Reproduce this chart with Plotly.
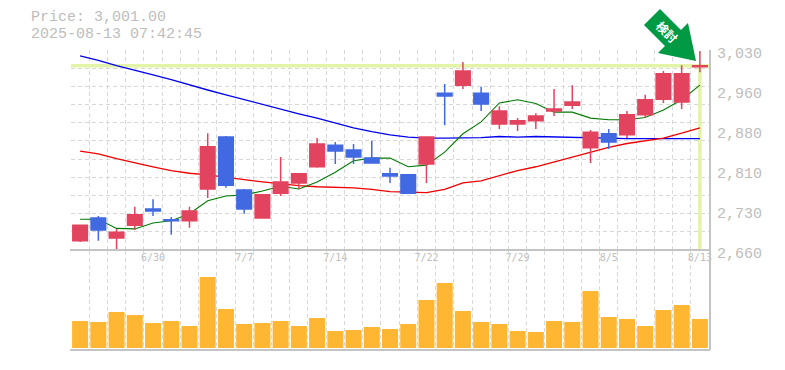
import plotly.graph_objects as go

W, H = 785, 370

# Trading days on the category axis
dates = ["6/24","6/25","6/26","6/27","6/30","7/1","7/2","7/3","7/4","7/7","7/8","7/9","7/10","7/11",
         "7/14","7/15","7/16","7/17","7/18","7/22","7/23","7/24","7/25","7/28","7/29","7/30","7/31",
         "8/1","8/4","8/5","8/6","8/7","8/8","8/12","8/13"]
labelled_dates = ["6/30","7/7","7/14","7/22","7/29","8/5","8/13"]

# OHLC
open_  = [2677,2719,2682,2706,2736,2716,2714,2773,2869,2771,2719,2765,2784,2814,2854,2845,2830,2801,2799,2819,2950,2965,2950,2893,2893,2899,2917,2928,2849,2875,2873,2910,2939,2934,2999]
high   = [2706,2723,2699,2740,2754,2721,2740,2876,2871,2773,2762,2832,2801,2867,2860,2856,2862,2812,2799,2869,2967,3008,2962,2926,2904,2913,2958,2965,2882,2884,2917,2947,2991,3002,3028]
low    = [2675,2677,2662,2697,2723,2688,2701,2756,2775,2727,2719,2760,2773,2812,2819,2819,2821,2784,2764,2784,2891,2958,2917,2884,2880,2884,2908,2921,2821,2847,2867,2904,2932,2921,2989]
close  = [2706,2697,2693,2725,2732,2714,2732,2851,2780,2736,2762,2786,2801,2856,2843,2832,2821,2797,2765,2869,2945,2991,2930,2917,2899,2908,2921,2934,2878,2860,2910,2938,2986,2986,3001]

# Moving averages
ma_blue = [3019,3011,3001,2993,2984,2975,2965,2956,2947,2938,2929,2920,2912,2904,2895,2886,2879,2873,2869,2867,2867,2867,2868,2870,2869,2870,2869,2869,2868,2866,2866,2866,2866,2866,2866]
ma_red  = [2843,2838,2829,2821,2814,2807,2802,2799,2794,2790,2786,2782,2779,2777,2776,2775,2772,2768,2767,2766,2772,2784,2788,2797,2807,2814,2823,2832,2841,2850,2857,2862,2867,2876,2886]
ma_green= [2717,2717,2700,2699,2710,2714,2727,2751,2760,2762,2769,2778,2773,2786,2804,2825,2830,2830,2814,2817,2841,2875,2897,2932,2938,2931,2915,2915,2904,2901,2901,2905,2919,2938,2965]

# Volume, in shares
volume = [27000,26000,36000,33000,25000,27000,22000,71000,39000,24000,25000,27000,22000,30000,17000,18000,21000,19000,24000,48000,65000,37000,26000,24000,17000,16000,27000,26000,57000,31000,29000,22000,38000,43000,29000]

current_price = 3001
price_label = "Price: 3,001.00"
stamp_label = "2025-08-13 07:42:45"
y_ticks = [2660,2734,2808,2882,2956,3030]
y_text = ["2,660","2,730","2,810","2,880","2,960","3,030"]

idx = list(range(len(dates)))
x_lo, x_hi = -0.5, len(dates) - 0.5
grid = "#d8d8d8"
axisc = "#c4c4c4"
txt = "#bdbdbd"
mono = "Liberation Mono"
grid_x = dict(tick0=-0.5, dtick=1, showgrid=True, gridcolor=grid, griddash="4px,3px", gridwidth=1, ticks="")

fig = go.Figure()
fig.add_trace(go.Scatter(x=[x_lo, x_hi], y=[current_price]*2, mode="lines", line=dict(color="#e3f3a8", width=3.5), zorder=-2, hoverinfo="skip"))
fig.add_trace(go.Scatter(x=[idx[-1], idx[-1]], y=[2660, current_price], mode="lines", line=dict(color="#e3f3a8", width=3.5), zorder=-2, hoverinfo="skip"))
fig.add_trace(go.Scatter(x=idx, y=ma_blue, mode="lines", line=dict(color="#0000f0", width=1.3), zorder=-1))
fig.add_trace(go.Scatter(x=idx, y=ma_red, mode="lines", line=dict(color="#f00000", width=1.3), zorder=-1))
fig.add_trace(go.Scatter(x=idx, y=ma_green, mode="lines", line=dict(color="#007a00", width=1.1), zorder=-1))
fig.add_trace(go.Candlestick(x=idx, open=open_, high=high, low=low, close=close,
    increasing=dict(line=dict(color="#e2445f", width=1.5), fillcolor="#e2445f"),
    decreasing=dict(line=dict(color="#4169e1", width=1.5), fillcolor="#4169e1"),
    whiskerwidth=0))
fig.add_trace(go.Bar(x=idx, y=volume, xaxis="x2", yaxis="y2", marker=dict(color="#ffb733", line_width=0), width=0.88))

fig.update_layout(
    width=W, height=H, autosize=False, margin=dict(l=0, r=0, t=0, b=0, autoexpand=False),
    paper_bgcolor="white", plot_bgcolor="white", showlegend=False, boxgap=0.2, boxgroupgap=0,
    xaxis=dict(domain=[71/W, 709/W], range=[x_lo, x_hi], anchor="y", rangeslider=dict(visible=False),
        tickmode="array", tickvals=[dates.index(d) for d in labelled_dates], ticktext=labelled_dates,
        tickfont=dict(family="DejaVu Sans Mono", size=10, color=txt), ticks="", showgrid=False, showline=False,
        zeroline=False, ticklabelstandoff=0, minor=grid_x),
    yaxis=dict(domain=[1-250/H, 1-50/H], range=[2660, 3030], side="right", anchor="x",
        tickmode="array", tickvals=y_ticks, ticktext=y_text,
        tickfont=dict(family=mono, size=15, color=txt), ticks="", showgrid=False, showline=False,
        zeroline=False, ticklabelstandoff=7, ticklabelshift=3,
        minor=dict(tick0=2660, dtick=370/11, showgrid=True, gridcolor=grid, griddash="4px,3px", gridwidth=1, ticks="")),
    xaxis2=dict(domain=[71/W, 709/W], range=[x_lo, x_hi], anchor="y2", showticklabels=False, ticks="",
        showgrid=False, showline=False, zeroline=False, minor=grid_x),
    yaxis2=dict(domain=[1-350/H, 1-251/H], range=[-2000, 97000], side="right", anchor="x2", showticklabels=False,
        ticks="", showgrid=False, showline=False, zeroline=False),
)

def px_line(x0, y0, x1, y1):
    fig.add_shape(type="line", xref="paper", yref="paper", x0=x0/W, x1=x1/W, y0=1-y0/H, y1=1-y1/H,
                  line=dict(color=axisc, width=2), layer="above")

# Panel frames
px_line(70, 250, 710, 250)
px_line(710, 50, 710, 350)
px_line(70, 350, 710, 350)

fig.add_annotation(xref="paper", yref="paper", x=29/W, y=1-17/H, text=price_label, showarrow=False, height=14,
    xanchor="left", yanchor="middle", font=dict(family=mono, size=15, color=txt))
fig.add_annotation(xref="paper", yref="paper", x=29/W, y=1-34/H, text=stamp_label, showarrow=False, height=14,
    xanchor="left", yanchor="middle", font=dict(family=mono, size=15, color=txt))

# Badge arrow in pixels converted to paper coordinates
arrow_px = [(660,9),(681,30),(688,23),(696,61),(658,53),(665,46),(644,25)]
path = "M " + " L ".join(f"{a/W:.5f},{1-b/H:.5f}" for a, b in arrow_px) + " Z"
fig.add_shape(type="path", xref="paper", yref="paper", path=path, fillcolor="#009944", line_width=0, layer="above")
# Carrier shape for the rotated badge text
fig.add_shape(type="rect", xref="paper", yref="paper", x0=646/W, x1=686/W, y0=1-53/H, y1=1-13/H,
    line_width=0, fillcolor="rgba(0,0,0,0)", layer="above",
    label=dict(text="<b>検討</b>", textangle=45, textposition="middle center",
               font=dict(family="Noto Sans CJK JP", size=12, color="white")))

fig.write_html("out.html", config=dict(displayModeBar=False),
    post_script="document.body.style.margin='0';document.documentElement.style.overflow='hidden';")
